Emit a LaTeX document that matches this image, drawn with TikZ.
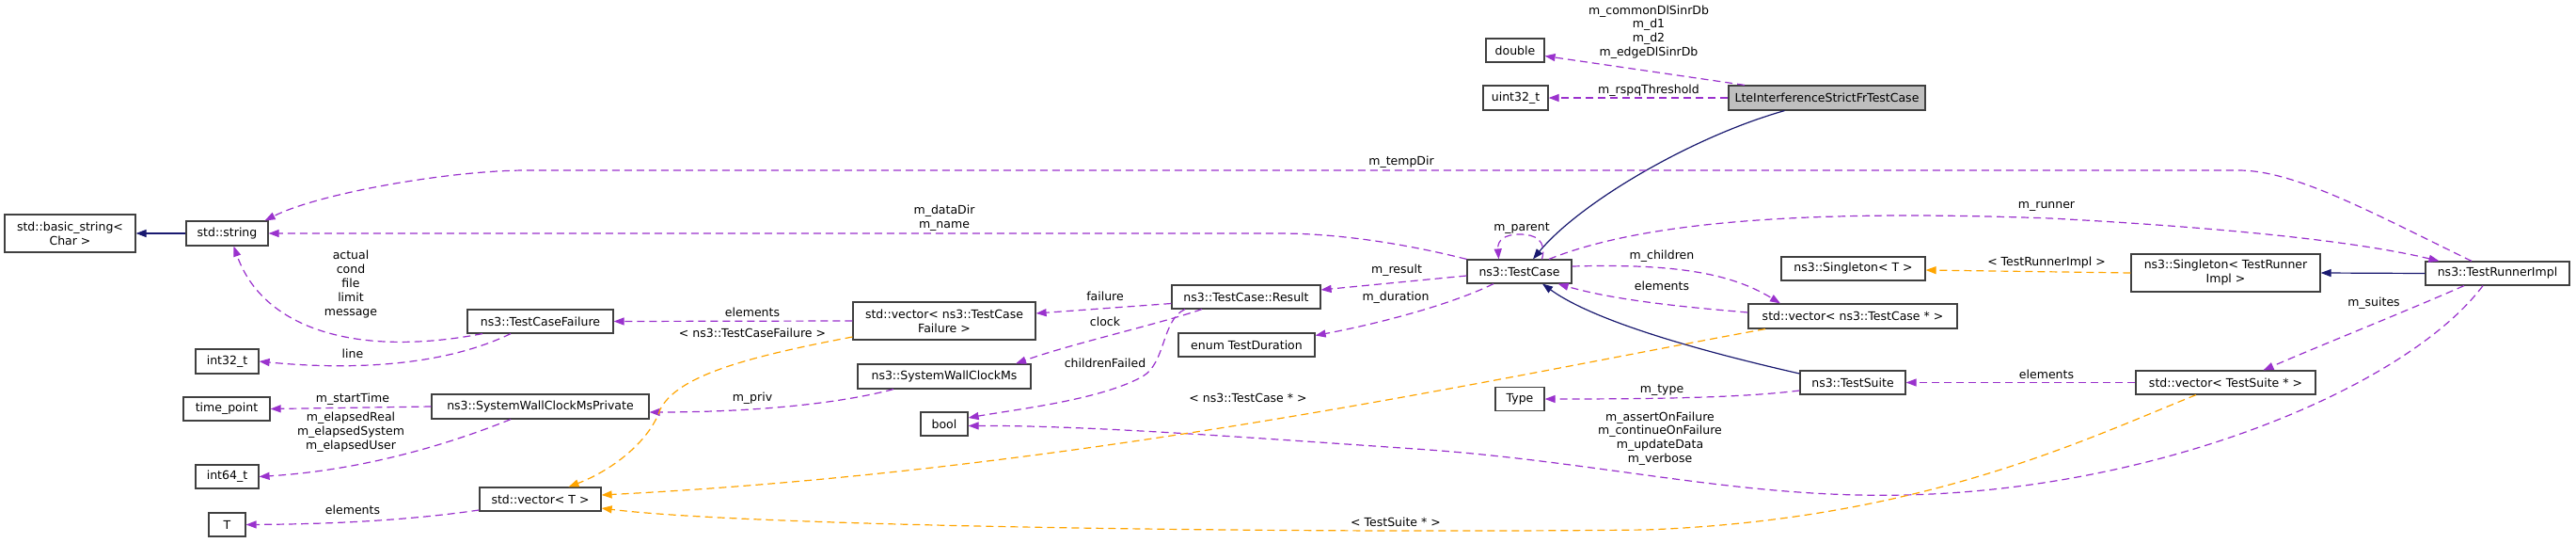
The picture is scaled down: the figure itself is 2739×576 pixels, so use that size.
\documentclass[tikz,border=0pt]{standalone}
\usepackage{fontspec}
\setmainfont{DejaVu Sans}
\usetikzlibrary{arrows.meta}
\definecolor{edgeP}{HTML}{9A32CD}
\definecolor{edgeO}{HTML}{FFA500}
\definecolor{edgeB}{HTML}{191970}
\definecolor{boxline}{HTML}{404040}
\definecolor{ltefill}{HTML}{BFBFBF}
\begin{document}
\begin{tikzpicture}[x=1pt,y=-1pt,
  box/.style={draw=boxline, line width=1.2pt, fill=white, inner sep=0pt, align=center, font=\fontsize{12.5}{15}\selectfont},
  lbl/.style={inner sep=0pt, align=center, font=\fontsize{12.5}{14.8}\selectfont},
  usage/.style={draw=edgeP, line width=1.2pt, dash pattern=on 8pt off 5pt, -{Triangle[length=11pt,width=8pt]}},
  tmpl/.style={draw=edgeO, line width=1.2pt, dash pattern=on 8pt off 5pt, -{Triangle[length=11pt,width=8pt]}},
  inh/.style={draw=edgeB, line width=1.2pt, -{Triangle[length=11pt,width=8pt]}},
]
\useasboundingbox[fill=white] (0,0) rectangle (2739,576);

% nodes
\node[box,minimum width=139pt,minimum height=40pt] (basic) at (74.5,248) {std::basic\_string<\\Char >};
\node[box,minimum width=87pt,minimum height=26pt] (string) at (241.5,248) {std::string};
\node[box,minimum width=67pt,minimum height=26pt] (int32) at (241.5,384) {int32\_t};
\node[box,minimum width=92pt,minimum height=25pt] (timept) at (241,434.5) {time\_point};
\node[box,minimum width=67pt,minimum height=25pt] (int64) at (241.5,506.5) {int64\_t};
\node[box,minimum width=39pt,minimum height=25pt] (T) at (241.5,557.5) {T};
\node[box,minimum width=155pt,minimum height=25pt] (tcf) at (574.5,341.5) {ns3::TestCaseFailure};
\node[box,minimum width=231pt,minimum height=26pt] (swcmp) at (574.5,432) {ns3::SystemWallClockMsPrivate};
\node[box,minimum width=129pt,minimum height=25pt] (vecT) at (574.5,530.5) {std::vector< T >};
\node[box,minimum width=194pt,minimum height=40pt] (vecTCF) at (1004,341) {std::vector< ns3::TestCase\\Failure >};
\node[box,minimum width=184pt,minimum height=26pt] (swcm) at (1004,400) {ns3::SystemWallClockMs};
\node[box,minimum width=50pt,minimum height=25pt] (bool) at (1004,450.5) {bool};
\node[box,minimum width=158pt,minimum height=25pt] (result) at (1325,315.5) {ns3::TestCase::Result};
\node[box,minimum width=145pt,minimum height=25pt] (enumTD) at (1325.5,366.5) {enum TestDuration};
\node[box,minimum width=62pt,minimum height=25pt] (double) at (1611,53.5) {double};
\node[box,minimum width=69pt,minimum height=26pt] (uint) at (1611.5,104) {uint32\_t};
\node[box,fill=ltefill,minimum width=209pt,minimum height=26pt] (lte) at (1942.5,104) {LteInterferenceStrictFrTestCase};
\node[box,minimum width=111pt,minimum height=25pt] (testcase) at (1615.5,288.5) {ns3::TestCase};
\node[box,minimum width=52pt,minimum height=25pt] (type) at (1616,424) {Type};
\node[box,minimum width=153pt,minimum height=25pt] (singT) at (1970.5,285.5) {ns3::Singleton< T >};
\node[box,minimum width=222pt,minimum height=26pt] (vecTC) at (1970,336) {std::vector< ns3::TestCase * >};
\node[box,minimum width=112pt,minimum height=25pt] (suite) at (1970,406.5) {ns3::TestSuite};
\node[box,minimum width=201pt,minimum height=40pt] (singTR) at (2366.5,290) {ns3::Singleton< TestRunner\\Impl >};
\node[box,minimum width=153pt,minimum height=25pt] (runner) at (2655.5,290.5) {ns3::TestRunnerImpl};
\node[box,minimum width=191pt,minimum height=25pt] (vecTS) at (2366.5,406.5) {std::vector< TestSuite * >};

% inheritance
\draw[inh] (string.west) -- (basic.east);
\draw[inh] ([xshift=-45pt]lte.south) .. controls (1800,145) and (1680,215) .. ([xshift=14.5pt]testcase.north);
\draw[inh] ([yshift=9.5pt]suite.west) .. controls (1830,378) and (1700,345) .. ([xshift=24.5pt]testcase.south);
\draw[inh] (runner.west) -- (singTR.east);

% usage
\draw[usage] ([xshift=-87.5pt]lte.north) -- ([yshift=-6pt]double.east);
\draw[usage] (lte.west) -- (uint.east);
\draw[usage] ([xshift=-27.5pt]runner.north) .. controls (2520,225) and (2440,181) .. (2380,181) -- (560,181) .. controls (480,181) and (340,205) .. ([xshift=-4pt]string.north east);
\draw[usage] (testcase.north west) .. controls (1490,258) and (1420,248) .. (1360,248) -- (string.east);
\draw[usage] ([xshift=-61.5pt]tcf.south) .. controls (380,380) and (280,350) .. ([xshift=7pt]string.south);
\draw[usage] ([xshift=-31.5pt]tcf.south) .. controls (480,385) and (390,395) .. (int32.east);
\draw[usage] (swcmp.west) -- (timept.east);
\draw[usage] ([xshift=-31.5pt]swcmp.south) .. controls (470,475) and (380,500) .. (int64.east);
\draw[usage] ([yshift=-11.5pt]vecT.west) .. controls (420,555) and (330,557) .. (T.east);
\draw[usage] (vecTCF.west) -- (tcf.east);
\draw[usage] ([yshift=-7pt]result.west) -- ([yshift=8pt]vecTCF.east);
\draw[usage] ([xshift=-47pt]result.south) .. controls (1230,345) and (1140,365) .. ([xshift=76pt]swcm.north);
\draw[usage] ([xshift=-65pt]result.south) .. controls (1235,340) and (1240,385) .. (1215,400) .. controls (1170,425) and (1080,435) .. ([yshift=6.5pt]bool.east);
\draw[usage] ([xshift=-54pt]swcm.south) .. controls (880,432) and (780,438) .. ([yshift=-6pt]swcmp.east);
\draw[usage] ([yshift=-4.5pt]testcase.west) -- ([yshift=7.5pt]result.east);
\draw[usage] ([xshift=-27.5pt]testcase.south) .. controls (1540,325) and (1460,345) .. ([yshift=10pt]enumTD.east);
\draw[usage] ([xshift=24pt]testcase.north) .. controls (1645,255) and (1632,249) .. (1616,249) .. controls (1600,249) and (1592,255) .. ([xshift=-22pt]testcase.north);
\draw[usage] ([yshift=5.5pt]testcase.east) .. controls (1780,280) and (1840,290) .. ([xshift=-77pt]vecTC.north);
\draw[usage] ([yshift=4pt]vecTC.west) .. controls (1800,327) and (1720,320) .. ([xshift=-15pt]testcase.south east);
\draw[usage] ([xshift=31.5pt]testcase.north) .. controls (1760,230) and (1960,224) .. (2180,232) .. controls (2350,241) and (2500,255) .. ([xshift=-62pt]runner.north);
\draw[usage] ([yshift=-8.5pt]suite.west) .. controls (1850,423) and (1750,424) .. (type.east);
\draw[usage] (vecTS.west) -- (suite.east);
\draw[usage] ([xshift=-35.5pt]runner.south) .. controls (2560,330) and (2460,370) .. ([xshift=40pt]vecTS.north);
\draw[usage] ([xshift=-15.5pt]runner.south) .. controls (2560,410) and (2300,520) .. (2025,526) .. controls (1850,530) and (1700,490) .. (1505,477) .. controls (1300,463) and (1150,452) .. ([yshift=-2pt]bool.east);

% templates
\draw[tmpl] ([yshift=-17pt]vecTCF.west) .. controls (790,380) and (720,400) .. (702,435) .. controls (690,470) and (650,500) .. ([xshift=30pt]vecT.north);
\draw[tmpl] ([xshift=-93pt]vecTC.south) .. controls (1600,400) and (1150,500) .. ([yshift=4.5pt]vecT.east);
\draw[tmpl] ([xshift=-31.5pt]vecTS.south) .. controls (2210,470) and (2040,552) .. (1750,563) .. controls (1400,567) and (800,560) .. ([yshift=-9.5pt]vecT.east);
\draw[tmpl] (singTR.west) -- ([yshift=-1.5pt]singT.east);

% labels
\node[lbl] (L1) at (1753,34) {m\_commonDlSinrDb\\m\_d1\\m\_d2\\m\_edgeDlSinrDb};
\node[lbl] (L2) at (1753,96) {m\_rspqThreshold};
\node[lbl] (L3) at (1490,172) {m\_tempDir};
\node[lbl] (L4) at (1004,232) {m\_dataDir\\m\_name};
\node[lbl] (L5) at (373,302) {actual\\cond\\file\\limit\\message};
\node[lbl] (L6) at (375,376) {line};
\node[lbl] (L7) at (375,424) {m\_startTime};
\node[lbl] (L8) at (373,459) {m\_elapsedReal\\m\_elapsedSystem\\m\_elapsedUser};
\node[lbl] (L9) at (375,542) {elements};
\node[lbl] (L10) at (800,332) {elements};
\node[lbl] (L11) at (800,354) {< ns3::TestCaseFailure >};
\node[lbl] (L12) at (800,423) {m\_priv};
\node[lbl] (L13) at (1175,315) {failure};
\node[lbl] (L14) at (1175,342) {clock};
\node[lbl] (L15) at (1175,386) {childrenFailed};
\node[lbl] (L16) at (1485,287) {m\_result};
\node[lbl] (L17) at (1484,316) {m\_duration};
\node[lbl] (L18) at (1618,243) {m\_parent};
\node[lbl] (L19) at (1767,272) {m\_children};
\node[lbl] (L20) at (1767,304) {elements};
\node[lbl] (L21) at (2176,219) {m\_runner};
\node[lbl] (L22) at (2176,279) {< TestRunnerImpl >};
\node[lbl] (L23) at (1327,423) {< ns3::TestCase * >};
\node[lbl] (L24) at (1767,415) {m\_type};
\node[lbl] (L25) at (2176,398) {elements};
\node[lbl] (L26) at (2524,322) {m\_suites};
\node[lbl] (L27) at (1765,466) {m\_assertOnFailure\\m\_continueOnFailure\\m\_updateData\\m\_verbose};
\node[lbl] (L28) at (1484,555) {< TestSuite * >};
\end{tikzpicture}
\end{document}
